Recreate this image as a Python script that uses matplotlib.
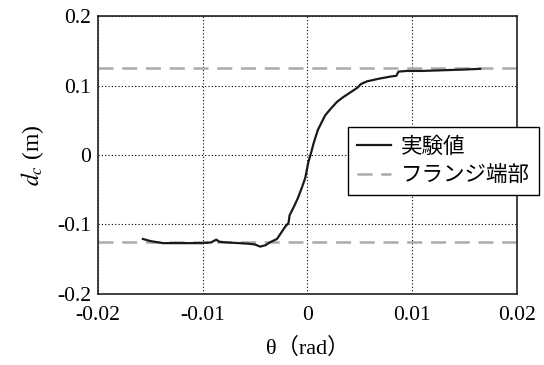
import matplotlib
matplotlib.use("Agg")
import matplotlib.pyplot as plt

plt.rcParams["font.family"] = ["Liberation Serif", "Noto Sans CJK JP"]
plt.rcParams["mathtext.fontset"] = "stix"

# measured curve (theta rad, d_c m)
theta = [-0.0157, -0.0150, -0.0138, -0.0120, -0.0101, -0.0092, -0.0087, -0.0084,
         -0.0077, -0.0065, -0.0055, -0.0050, -0.0045, -0.0040, -0.0036, -0.0029,
         -0.0025, -0.0021, -0.0018, -0.0017, -0.0013, -0.0009, -0.0005, -0.0002,
         0.0001, 0.0003, 0.0006, 0.0010, 0.0017, 0.0022, 0.0028, 0.0034, 0.0039,
         0.0044, 0.0048, 0.0051, 0.0057, 0.0069, 0.0080, 0.0085, 0.0087, 0.0095,
         0.0110, 0.0130, 0.0150, 0.0165]
dc = [-0.121, -0.124, -0.127, -0.127, -0.127, -0.126, -0.122, -0.125,
      -0.126, -0.127, -0.128, -0.129, -0.132, -0.130, -0.126, -0.121,
      -0.112, -0.103, -0.098, -0.087, -0.075, -0.062, -0.046, -0.033,
      -0.010, 0.000, 0.017, 0.036, 0.057, 0.066, 0.076, 0.083, 0.088,
      0.093, 0.097, 0.102, 0.106, 0.110, 0.113, 0.114, 0.120, 0.121,
      0.121, 0.122, 0.123, 0.124]
flange = 0.125

x_ticks = [-0.02, -0.01, 0, 0.01, 0.02]
y_ticks = [-0.2, -0.1, 0, 0.1, 0.2]
x_labels = ["-0.02", "-0.01", "0", "0.01", "0.02"]
y_labels = ["-0.2", "-0.1", "0", "0.1", "0.2"]

fig = plt.figure(figsize=(5.44, 3.65), dpi=100)
ax = fig.add_axes([0.180, 0.195, 0.770, 0.761])

ax.set_xlim(-0.02, 0.02)
ax.set_ylim(-0.2, 0.2)
ax.set_xticks(x_ticks)
ax.set_xticklabels(x_labels)
ax.set_yticks(y_ticks)
ax.set_yticklabels(y_labels)
ax.tick_params(length=0, labelsize=15.5)
ax.tick_params(axis="x", pad=9)
ax.tick_params(axis="y", pad=5)
ax.grid(True, color="black", linestyle=(0, (1, 2)), linewidth=0.8)

ax.plot(theta, dc, color="#1a1a1a", linewidth=1.6, label="実験値", zorder=3)
ax.axhline(flange, color="#aaaaaa", linestyle=(0, (6, 3.5)), linewidth=1.8,
           label="フランジ端部", zorder=2)
ax.axhline(-flange, color="#aaaaaa", linestyle=(0, (6, 3.5)), linewidth=1.8, zorder=2)

for spine in ax.spines.values():
    spine.set_linewidth(1.2)
    spine.set_color("#222222")

ax.set_xlabel("θ（rad）", fontsize=16, labelpad=9)
ax.set_ylabel(r"$d_c$ (m)", fontsize=17, labelpad=8)

leg = fig.legend(loc="upper left", bbox_to_anchor=(0.640, 0.652),
                 bbox_transform=fig.transFigure, frameon=True, fancybox=False,
                 prop={"family": ["Noto Sans CJK JP"], "size": 15.5},
                 handlelength=1.6, handletextpad=0.45, borderpad=0.4,
                 labelspacing=0.3, borderaxespad=0)
leg.get_frame().set_edgecolor("black")
leg.get_frame().set_linewidth(1.0)
leg.get_frame().set_alpha(1)

fig.savefig("out.png", dpi=100)
